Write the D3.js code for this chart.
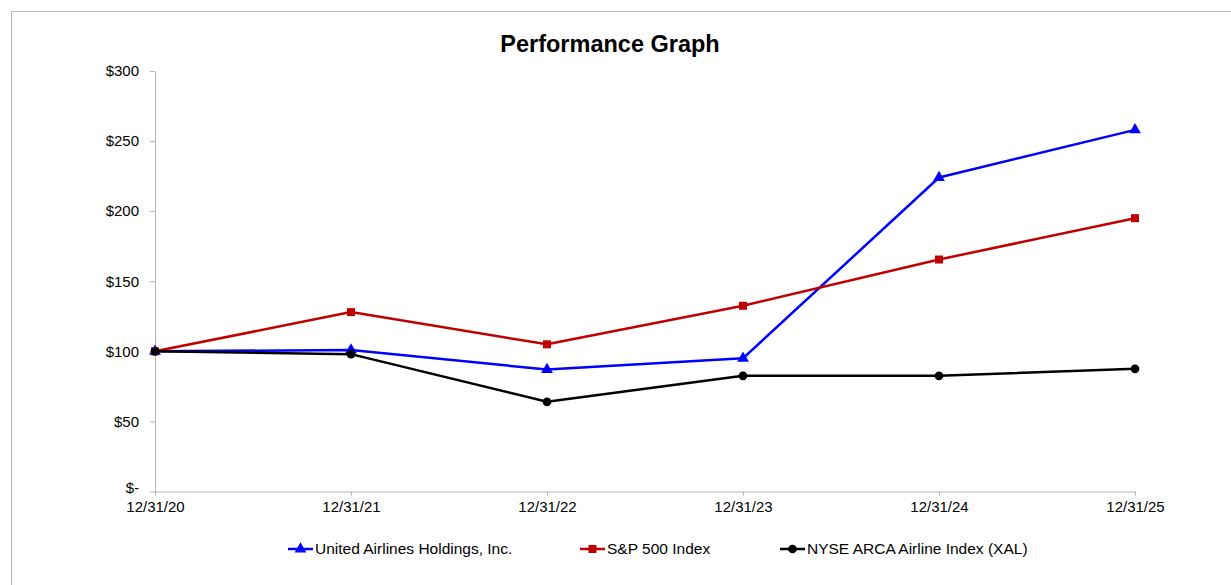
<!DOCTYPE html>
<html>
<head>
<meta charset="utf-8">
<script src="https://cdn.jsdelivr.net/npm/d3@7"></script>
<style>
  body { margin: 0; background: #fff; }
  svg { font-family: "Liberation Sans", Arial, sans-serif; }
</style>
</head>
<body>
<svg width="1231" height="585"></svg>
<script>
// chart data
const dates = ['12/31/20', '12/31/21', '12/31/22', '12/31/23', '12/31/24', '12/31/25'];
const united = [100, 101, 87, 95, 224, 258];
const sp500 = [100, 128, 105, 132.5, 165.5, 195];
const xal = [100, 98, 64, 82.5, 82.5, 87.5];
const yTicks = [0, 50, 100, 150, 200, 250, 300];
const seriesNames = ['United Airlines Holdings, Inc.', 'S&P 500 Index', 'NYSE ARCA Airline Index (XAL)'];

const series = [
    {name: seriesNames[0], values: united, color: '#0000ff', symbol: d3.symbolTriangle, size: 60},
    {name: seriesNames[1], values: sp500, color: '#c00000', symbol: d3.symbolSquare, size: 64},
    {name: seriesNames[2], values: xal, color: '#000000', symbol: d3.symbolCircle, size: 60}
];

const svg = d3.select('svg');
const margin = {top: 71, left: 155, right: 96, bottom: 94};
const width = 1231, height = 585;

// frame (top and left edges visible)
svg.append('path')
    .attr('d', 'M11.5,585 V11.5 H1231')
    .attr('fill', 'none')
    .attr('stroke', '#b4b4b4')
    .attr('stroke-width', 1);

svg.append('text')
    .attr('x', 610)
    .attr('y', 52)
    .attr('text-anchor', 'middle')
    .attr('font-size', 23.5)
    .attr('font-weight', 'bold')
    .text('Performance Graph');

const xScale = d3.scalePoint()
    .domain(dates)
    .range([margin.left, width - margin.right]);

const yScale = d3.scaleLinear()
    .domain([0, 300])
    .range([height - margin.bottom + 0.5, margin.top]);

const fmt = v => v === 0 ? '$-' : '$' + v;

// axes
const xAxis = svg.append('g')
    .attr('transform', `translate(0,${yScale(0)})`)
    .call(d3.axisBottom(xScale).tickSize(4).tickPadding(6).tickSizeOuter(0));

const yAxis = svg.append('g')
    .attr('transform', `translate(${margin.left},0)`)
    .call(d3.axisLeft(yScale).tickValues(yTicks).tickFormat(fmt).tickSize(5).tickPadding(11).tickSizeOuter(0));

[xAxis, yAxis].forEach(a => {
    a.selectAll('path, line').attr('stroke', '#b4b4b4');
    a.selectAll('text')
        .attr('font-size', 15)
        .attr('font-family', '"Liberation Sans", Arial, sans-serif')
        .attr('fill', '#000');
});
// the "$-" label sits a little higher in the original
yAxis.selectAll('.tick text').filter(d => d === 0).attr('y', -4);

const line = d3.line()
    .x((d, i) => xScale(dates[i]))
    .y(d => yScale(d));

series.forEach(s => {
    svg.append('path')
        .datum(s.values)
        .attr('fill', 'none')
        .attr('stroke', s.color)
        .attr('stroke-width', 2.5)
        .attr('stroke-linejoin', 'round')
        .attr('d', line);

    svg.selectAll(null)
        .data(s.values)
        .enter().append('path')
        .attr('transform', (d, i) => `translate(${xScale(dates[i])},${yScale(d)})`)
        .attr('d', d3.symbol().type(s.symbol).size(s.size))
        .attr('fill', s.color);
});

// legend
const legendX = [288, 580, 780];
const legendY = 549;
series.forEach((s, i) => {
    const g = svg.append('g').attr('transform', `translate(${legendX[i]},${legendY})`);
    g.append('line')
        .attr('x1', 0).attr('x2', 25)
        .attr('stroke', s.color)
        .attr('stroke-width', 2.5);
    g.append('path')
        .attr('transform', 'translate(12.5,0)')
        .attr('d', d3.symbol().type(s.symbol).size(s.size))
        .attr('fill', s.color);
    g.append('text')
        .attr('x', 27)
        .attr('dy', '0.35em')
        .attr('font-size', 15.5)
        .text(s.name);
});
</script>
</body>
</html>
